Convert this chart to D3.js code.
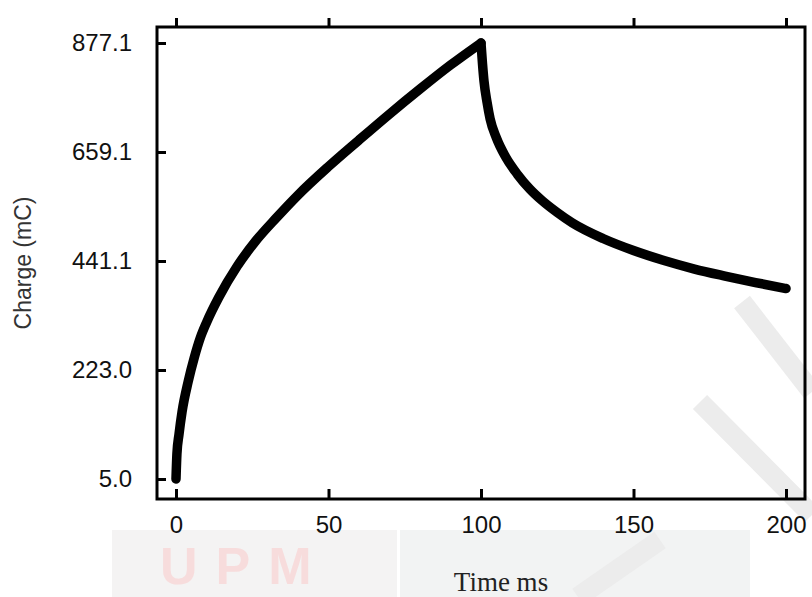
<!DOCTYPE html>
<html>
<head>
<meta charset="utf-8">
<script src="https://cdn.jsdelivr.net/npm/d3@7"></script>
<style>
  html, body { margin: 0; padding: 0; background: #fff; }
  svg { display: block; }
</style>
</head>
<body>
<svg id="chart" width="812" height="597"></svg>
<script>
// Charging phase (0–100 ms)
const chargeTimeMs = [0, 0.3, 1, 2, 4, 6, 8, 10, 14, 20, 26, 33, 40, 50, 60, 70, 80, 90, 100];
const chargeMC     = [5, 55, 95, 140, 200, 248, 288, 318, 368, 430, 480, 528, 573, 630, 683, 735, 785, 833, 877.1];

// Relaxation phase (100–200 ms)
const relaxTimeMs = [100, 100.5, 101, 102, 103, 105, 108, 112, 116, 120, 125, 130, 140, 150, 160, 170, 180, 190, 200];
const relaxMC     = [877.1, 835, 800, 758, 725, 688, 650, 614, 585, 562, 538, 517, 486, 462, 442, 425, 411, 398, 386];

const xTicks = [0, 50, 100, 150, 200];
const yTicks = [5.0, 223.0, 441.1, 659.1, 877.1];
const yTickLabels = ["5.0", "223.0", "441.1", "659.1", "877.1"];

const svg = d3.select("#chart");

const frame = { left: 157, right: 805, top: 27, bottom: 499 };
const x = d3.scaleLinear().domain([0, 200]).range([176, 786]);
const y = d3.scaleLinear().domain([5.0, 877.1]).range([479, 43]);

const sans = "Liberation Sans, Arial, Helvetica, sans-serif";

// faint banner behind the axis title
const banner = svg.append("g");
banner.append("rect").attr("x", 112).attr("y", 530).attr("width", 285).attr("height", 67).attr("fill", "#f4f3f3");
banner.append("rect").attr("x", 400).attr("y", 530).attr("width", 350).attr("height", 67).attr("fill", "#f2f3f3");
banner.append("text").attr("x", 160).attr("y", 584).attr("font-family", sans)
  .attr("font-weight", "bold").attr("font-size", 52).attr("fill", "#f7dcdc").attr("letter-spacing", 18).text("UPM");
banner.append("path").attr("d", "M742,302 L812,392").attr("stroke", "#ececec").attr("stroke-width", 20).attr("fill", "none");
banner.append("path").attr("d", "M700,402 L812,515").attr("stroke", "#ececec").attr("stroke-width", 20).attr("fill", "none");
banner.append("path").attr("d", "M578,597 L660,540").attr("stroke", "#ececec").attr("stroke-width", 20).attr("fill", "none");

// frame
svg.append("rect")
  .attr("x", frame.left).attr("y", frame.top)
  .attr("width", frame.right - frame.left).attr("height", frame.bottom - frame.top)
  .attr("fill", "none").attr("stroke", "#000").attr("stroke-width", 3);

// bottom axis: ticks point inward
const xAxisBottom = d3.axisBottom(x).tickValues(xTicks).tickSize(-10).tickPadding(17).tickFormat(d3.format("d"));
const gxb = svg.append("g").attr("transform", `translate(0,${frame.bottom})`).call(xAxisBottom);
gxb.select(".domain").remove();
gxb.selectAll(".tick line").attr("stroke", "#000").attr("stroke-width", 3);
gxb.selectAll(".tick text").attr("font-family", sans).attr("font-size", 24).attr("fill", "#111");

// top axis: ticks point outward, no labels
const xAxisTop = d3.axisTop(x).tickValues(xTicks).tickSize(9).tickFormat("");
const gxt = svg.append("g").attr("transform", `translate(0,${frame.top})`).call(xAxisTop);
gxt.select(".domain").remove();
gxt.selectAll(".tick line").attr("stroke", "#000").attr("stroke-width", 3);

// left axis: ticks point inward
const yAxis = d3.axisLeft(y).tickValues(yTicks).tickSize(-9).tickPadding(25)
  .tickFormat((d, i) => yTickLabels[i]);
const gy = svg.append("g").attr("transform", `translate(${frame.left},0)`).call(yAxis);
gy.select(".domain").remove();
gy.selectAll(".tick line").attr("stroke", "#000").attr("stroke-width", 3);
gy.selectAll(".tick text").attr("font-family", sans).attr("font-size", 24).attr("fill", "#111");

// charge curve, one path per phase so the peak stays sharp
const phases = [
  { t: chargeTimeMs, q: chargeMC },
  { t: relaxTimeMs, q: relaxMC }
];
const line = d3.line().x(d => x(d[0])).y(d => y(d[1])).curve(d3.curveMonotoneX);
svg.selectAll("path.curve")
  .data(phases)
  .join("path")
  .attr("class", "curve")
  .attr("d", p => line(p.t.map((t, i) => [t, p.q[i]])))
  .attr("fill", "none").attr("stroke", "#000")
  .attr("stroke-width", 9.5).attr("stroke-linejoin", "round").attr("stroke-linecap", "round");

// axis titles
svg.append("text")
  .attr("transform", `translate(31,${(frame.top + frame.bottom) / 2}) rotate(-90)`)
  .attr("text-anchor", "middle")
  .attr("font-family", sans).attr("font-size", 23).attr("fill", "#333")
  .text("Charge (mC)");

svg.append("text")
  .attr("x", 501).attr("y", 591)
  .attr("text-anchor", "middle")
  .attr("font-family", "Liberation Serif, Times New Roman, serif").attr("font-size", 27).attr("fill", "#222")
  .text("Time ms");
</script>
</body>
</html>
